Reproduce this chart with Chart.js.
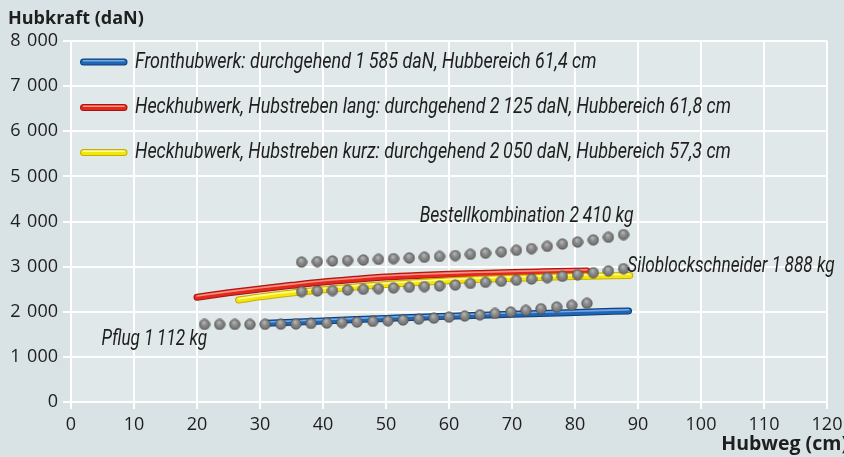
<!DOCTYPE html>
<html><head><meta charset="utf-8">
<script src="https://cdn.jsdelivr.net/npm/chart.js@4"></script>
<style>
html,body{margin:0;padding:0;background:#d9e2e4;}
#wrap{width:844px;height:457px;position:relative;}
</style>
</head><body><div id="wrap"><canvas id="c"></canvas></div>
<script>
// ---- data ----
const xTicks = [0, 10, 20, 30, 40, 50, 60, 70, 80, 90, 100, 110, 120];
const yTicks = [0, 1000, 2000, 3000, 4000, 5000, 6000, 7000, 8000];

const frontX = [31.1, 40, 50, 54, 60, 70, 80, 88.5];
const frontY = [1745, 1797, 1852, 1875, 1902, 1945, 1985, 2018];

const heckLangX = [20, 25, 30, 35, 40, 45, 50, 55, 60, 65, 70, 75, 81.9];
const heckLangY = [2322, 2420, 2505, 2585, 2660, 2718, 2770, 2805, 2830, 2850, 2868, 2884, 2905];

const heckKurzX = [26.6, 30, 35, 40, 45, 50, 55, 60, 65, 70, 75, 80, 88.7];
const heckKurzY = [2261, 2330, 2415, 2488, 2550, 2605, 2650, 2688, 2718, 2742, 2762, 2782, 2805];

const pflugX = [21.2, 23.6, 26.0, 28.4, 30.8, 33.3, 35.7, 38.1, 40.6, 43.0, 45.4, 47.9, 50.3,
                52.7, 55.2, 57.6, 60.0, 62.5, 64.9, 67.3, 69.8, 72.2, 74.6, 77.1, 79.5, 81.9];
const pflugY = [1720, 1720, 1720, 1720, 1722, 1725, 1730, 1740, 1750, 1760, 1772, 1786, 1800,
                1818, 1838, 1860, 1882, 1906, 1932, 1962, 1995, 2030, 2066, 2104, 2144, 2188];

const bestellX = [36.6, 39.1, 41.5, 43.9, 46.4, 48.8, 51.2, 53.7, 56.1, 58.5, 61.0,
                  63.4, 65.8, 68.3, 70.7, 73.1, 75.6, 78.0, 80.4, 82.9, 85.3, 87.7];
const bestellY = [3100, 3112, 3125, 3135, 3148, 3162, 3177, 3193, 3209, 3225, 3246,
                  3272, 3298, 3327, 3362, 3400, 3450, 3500, 3545, 3592, 3650, 3710];

const siloX = [36.6, 39.1, 41.5, 43.9, 46.4, 48.8, 51.2, 53.7, 56.1, 58.5, 61.0,
               63.4, 65.8, 68.3, 70.7, 73.1, 75.6, 78.0, 80.4, 82.9, 85.3, 87.7];
const siloY = [2446, 2460, 2470, 2484, 2498, 2513, 2528, 2543, 2557, 2573, 2594,
               2628, 2653, 2676, 2700, 2727, 2757, 2786, 2822, 2866, 2905, 2955];

const legendLabels = [
  'Fronthubwerk: durchgehend 1\u2009585 daN, Hubbereich 61,4 cm',
  'Heckhubwerk, Hubstreben lang: durchgehend 2\u2009125 daN, Hubbereich 61,8 cm',
  'Heckhubwerk, Hubstreben kurz: durchgehend 2\u2009050 daN, Hubbereich 57,3 cm'
];
const dotLabels = ['Siloblockschneider 1\u2009888 kg', 'Bestellkombination 2\u2009410 kg', 'Pflug 1\u2009112 kg'];
const yTitle = 'Hubkraft (daN)';
const xTitle = 'Hubweg (cm)';

// ---- helpers ----
const pts = (xs, ys) => xs.map((x, i) => ({x, y: ys[i]}));

function makeSphere() {
  const c = document.createElement('canvas');
  c.width = 12; c.height = 12;
  const g = c.getContext('2d');
  const grad = g.createRadialGradient(5.2, 3.8, 0.5, 6, 6, 5.6);
  grad.addColorStop(0, '#b4b4b4');
  grad.addColorStop(0.45, '#8a8a8a');
  grad.addColorStop(0.85, '#727272');
  grad.addColorStop(1, '#5a5a5a');
  g.beginPath(); g.arc(6, 6, 5.3, 0, Math.PI * 2);
  g.fillStyle = grad; g.fill();
  g.lineWidth = 0.7; g.strokeStyle = 'rgba(70,70,70,0.8)'; g.stroke();
  return c;
}
const sphere = makeSphere();

const lineStyles = [
  {main: '#1f66b5', edge: '#0d3f7e', hi: '#7fb0e8'},
  {main: '#e3291e', edge: '#a8150f', hi: '#f8a091'},
  {main: '#f5e60a', edge: '#c2b000', hi: '#fffbb8'}
];

function strokeStyled(ctx, pathFn, st) {
  ctx.save();
  ctx.lineCap = 'round'; ctx.lineJoin = 'round';
  ctx.beginPath(); pathFn(); ctx.lineWidth = 7; ctx.strokeStyle = st.edge; ctx.stroke();
  ctx.beginPath(); pathFn(); ctx.lineWidth = 5; ctx.strokeStyle = st.main; ctx.stroke();
  ctx.translate(0, -1.2);
  ctx.beginPath(); pathFn(); ctx.lineWidth = 1.6; ctx.strokeStyle = st.hi; ctx.globalAlpha = 0.9; ctx.stroke();
  ctx.restore();
}

function condText(ctx, text, x, y, align, size, sx) {
  ctx.save();
  ctx.font = 'italic ' + size + 'px Roboto, "Liberation Sans", sans-serif';
  ctx.fillStyle = '#1e1e1e';
  ctx.textBaseline = 'middle';
  const w = ctx.measureText(text).width * sx;
  let left = x;
  if (align === 'right') left = x - w;
  ctx.translate(left, y);
  ctx.scale(sx, 1);
  ctx.textAlign = 'left';
  ctx.fillText(text, 0, 0);
  ctx.restore();
}

const decoPlugin = {
  id: 'deco',
  beforeDraw(chart) {
    const {ctx, chartArea: a} = chart;
    ctx.save();
    ctx.fillStyle = '#d9e2e4';
    ctx.fillRect(0, 0, chart.width, chart.height);
    ctx.fillStyle = '#e1e8ea';
    ctx.fillRect(a.left, a.top, a.right - a.left, a.bottom - a.top);
    ctx.restore();
  },
  afterDatasetDraw(chart, args) {
    const ds = chart.data.datasets[args.index];
    if (ds.styleIdx === undefined) return;
    const line = args.meta.dataset;
    const ctx = chart.ctx;
    strokeStyled(ctx, () => line.path(ctx), lineStyles[ds.styleIdx]);
  },
  afterDraw(chart) {
    const {ctx, chartArea: a, scales} = chart;
    // legend
    const rowsY = [a.top + 21, a.top + 66.5, a.top + 111.5];
    const order = [3, 5, 4];
    order.forEach((di, r) => {
      const ds = chart.data.datasets[di];
      const y = rowsY[r];
      strokeStyled(ctx, () => { ctx.moveTo(a.left + 12.5, y); ctx.lineTo(a.left + 53, y); }, lineStyles[ds.styleIdx]);
      condText(ctx, ds.label, a.left + 64, y, 'left', 22, 0.815);
    });
    // dot labels
    const xs = scales.x, ys = scales.y;
    condText(ctx, dotLabels[1], xs.getPixelForValue(89.3), ys.getPixelForValue(4110), 'right', 21.5, 0.815);
    condText(ctx, dotLabels[0], xs.getPixelForValue(88.3), ys.getPixelForValue(3005), 'left', 21.5, 0.8);
    condText(ctx, dotLabels[2], xs.getPixelForValue(21.6), ys.getPixelForValue(1375), 'right', 21.5, 0.8);
    // axis titles
    ctx.save();
    ctx.fillStyle = '#1e1e1e';
    ctx.textBaseline = 'middle';
    ctx.textAlign = 'left';
    ctx.font = 'bold 18px "Open Sans", sans-serif';
    ctx.fillText(yTitle, 8, 19);
    ctx.textAlign = 'right';
    ctx.font = 'bold 19.5px "Open Sans", sans-serif';
    ctx.fillText(xTitle, chart.width + 4, 444);
    ctx.restore();
  }
};

const dotDs = (label, xs, ys) => ({
  label, data: pts(xs, ys), showLine: false,
  pointStyle: sphere, pointRadius: 5.5, pointHoverRadius: 5.5,
  backgroundColor: '#888', borderColor: '#666'
});
const lineDs = (label, xs, ys, styleIdx) => ({
  label, data: pts(xs, ys), showLine: true, styleIdx,
  borderColor: lineStyles[styleIdx].main, borderWidth: 5, pointRadius: 0,
  cubicInterpolationMode: 'monotone', borderCapStyle: 'round', borderJoinStyle: 'round',
  fill: false
});

new Chart(document.getElementById('c'), {
  type: 'scatter',
  data: {
    datasets: [
      dotDs(dotLabels[0], siloX, siloY),
      dotDs(dotLabels[1], bestellX, bestellY),
      dotDs(dotLabels[2], pflugX, pflugY),
      lineDs(legendLabels[0], frontX, frontY, 0),
      lineDs(legendLabels[2], heckKurzX, heckKurzY, 2),
      lineDs(legendLabels[1], heckLangX, heckLangY, 1)
    ]
  },
  options: {
    responsive: true, maintainAspectRatio: false, animation: false,
    layout: {padding: {top: 41, right: 17, left: 0, bottom: 0}},
    plugins: {legend: {display: false}, tooltip: {enabled: false}},
    scales: {
      x: {
        type: 'linear', min: xTicks[0], max: xTicks[xTicks.length - 1],
        afterBuildTicks: s => { s.ticks = xTicks.map(v => ({value: v})); },
        afterFit: s => { s.height = 55; s.paddingLeft = 0; s.paddingRight = 0; },
        grid: {color: '#ffffff', lineWidth: 2, tickLength: 7, tickColor: '#ffffff'},
        border: {color: '#ffffff', width: 2},
        ticks: {color: '#1e1e1e', font: {family: '"Open Sans", sans-serif', size: 18}, padding: 5, maxRotation: 0}
      },
      y: {
        type: 'linear', min: yTicks[0], max: yTicks[yTicks.length - 1],
        afterBuildTicks: s => { s.ticks = yTicks.map(v => ({value: v})); },
        afterFit: s => { s.width = 71; s.paddingTop = 0; s.paddingBottom = 0; },
        grid: {color: '#ffffff', lineWidth: 2, tickLength: 8, tickColor: '#ffffff'},
        border: {color: '#ffffff', width: 2},
        ticks: {
          color: '#1e1e1e', font: {family: '"Open Sans", sans-serif', size: 18}, padding: 5,
          callback: v => String(v).replace(/\B(?=(\d{3})+(?!\d))/g, ' \u200A')
        }
      }
    }
  },
  plugins: [decoPlugin]
});
</script>
</body></html>
